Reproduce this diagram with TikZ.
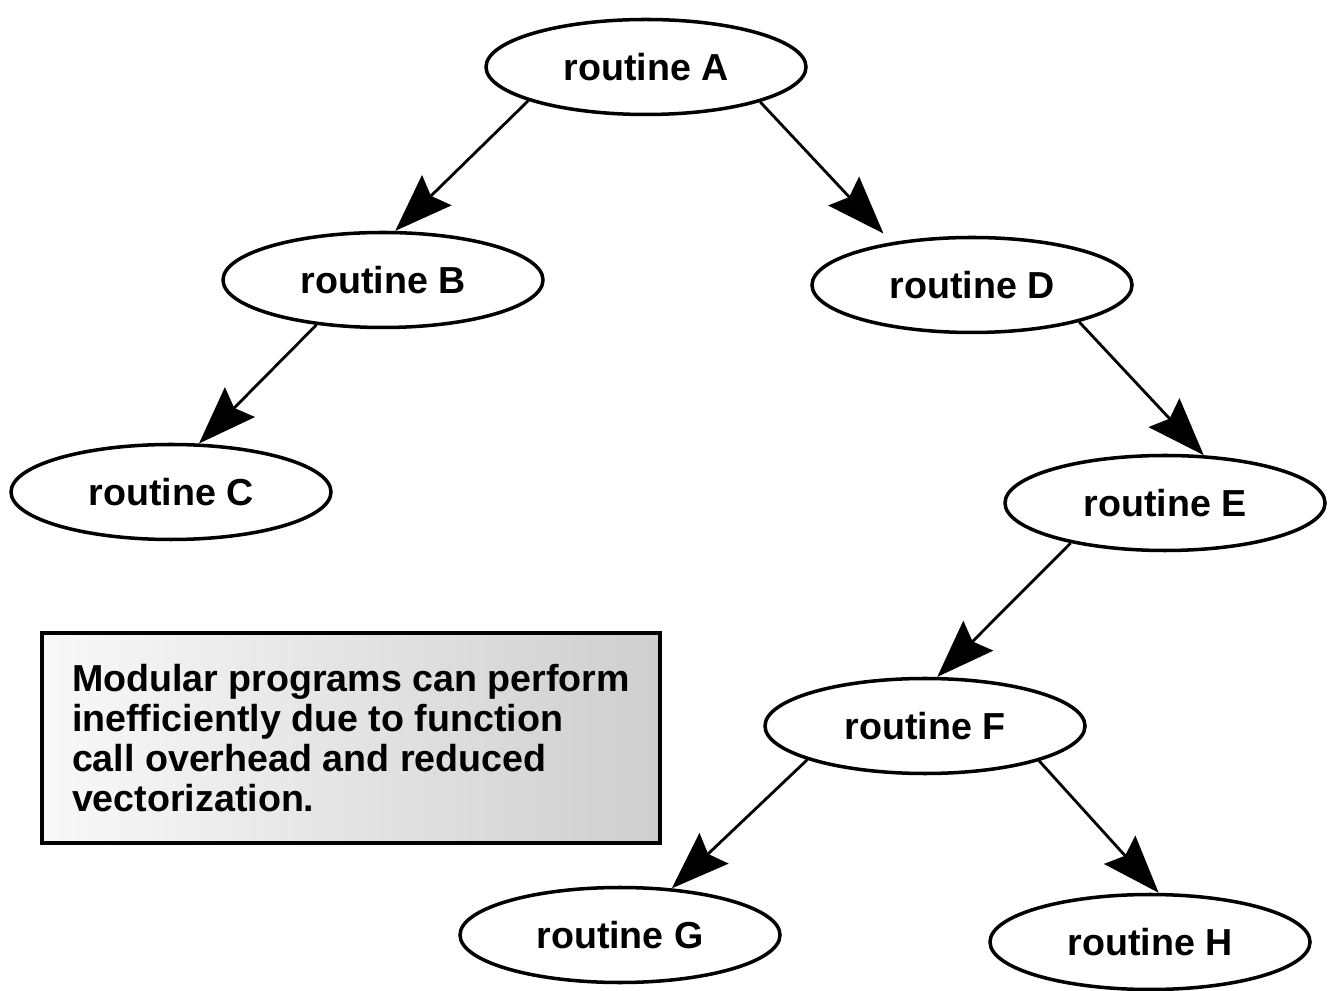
\documentclass[tikz,border=0pt]{standalone}
\usepackage{fontspec}
\newfontfamily\labelfont{Liberation Sans}
\usepackage{tikz}
\usetikzlibrary{shapes,arrows.meta}
\tikzstyle{routine} = [ellipse, draw, line width=1pt, minimum width=3.2cm, minimum height=0.95cm, inner sep=0pt, font=\labelfont\bfseries\fontsize{10.7}{12}\selectfont]
\tikzstyle{note} = [rectangle, draw, line width=1pt, left color=gray!5, right color=gray!38, minimum width=6.18cm, minimum height=2.1cm, align=left, font=\labelfont\bfseries\fontsize{10.7}{11.4}\selectfont]
\tikzstyle{line} = [draw, line width=0.8pt, -{Stealth[length=5.8mm,width=4.2mm,inset=0.8mm]}]

\begin{document}
\begin{tikzpicture}
\useasboundingbox (0,0) rectangle (13.28,9.90);
\node [routine] (a) at (6.46,9.23) {routine A};
\node [routine] (b) at (3.83,7.10) {routine B};
\node [routine] (c) at (1.71,4.98) {routine C};
\node [routine] (d) at (9.72,7.05) {routine D};
\node [routine] (e) at (11.65,4.87) {routine E};
\node [routine] (f) at (9.25,2.64) {routine F};
\node [routine] (g) at (6.20,0.55) {routine G};
\node [routine] (h) at (11.50,0.48) {routine H};
\node [note] (remark) at (3.51,2.52) {Modular programs can perform\\inefficiently due to function\\call overhead and reduced\\vectorization.};
\path [line] (a.196) -- (b.76);
\path [line, shorten >=1.2mm] (a.343) -- (d.152);
\path [line] (b.214) -- (c.60);
\path [line] (d.341) -- (e.51);
\path [line] (e.203) -- (f.76);
\path [line] (f.196) -- (g.42);
\path [line] (f.343) -- (h.80);
\end{tikzpicture}
\end{document}
